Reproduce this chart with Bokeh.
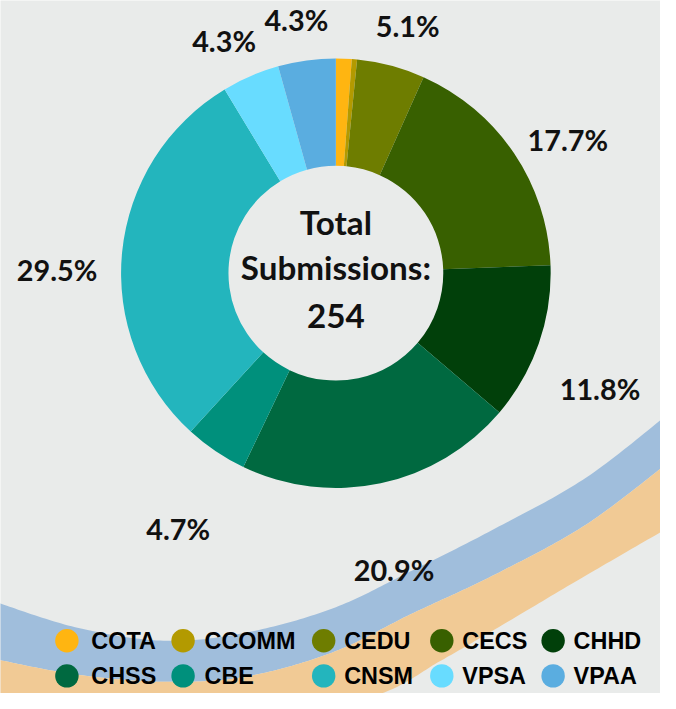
import numpy as np
from bokeh.plotting import figure
from bokeh.models import Range1d, ColumnDataSource
from bokeh.core.properties import value
from bokeh.embed import file_html
from bokeh.resources import INLINE

# ---- data ----
units = ["COTA", "CCOMM", "CEDU", "CECS", "CHHD", "CHSS", "CBE", "CNSM", "VPSA", "VPAA"]
counts = [3, 1, 13, 45, 30, 53, 12, 75, 11, 11]
colors = ["#FFB511", "#B39A00", "#6E7D00", "#386000", "#01400A",
          "#006940", "#00907C", "#23B5BD", "#68DCFF", "#5AADE0"]
total = sum(counts)

# label anchor positions (reference pixels, y from top) for the labelled slices
label_units = ["CEDU", "CECS", "CHHD", "CHSS", "CBE", "CNSM", "VPSA", "VPAA"]
label_pos = [(417, 26), (581, 143), (614, 397), (403, 583),
             (182, 541), (58, 276), (229, 41), (303, 20)]

BG = "#E9EBEA"
W, H = 676, 709
PW, PH = 660, 693
S = PW / W  # screen scale


def Y(y):
    return H - np.asarray(y, float)


def fs(px):
    return f"{px * S:.1f}px"


p = figure(width=PW, height=PH, x_range=Range1d(0, W), y_range=Range1d(0, H),
           x_axis_type=None, y_axis_type=None, toolbar_location=None,
           output_backend="svg", min_border=0)
p.background_fill_color = BG
p.border_fill_color = BG
p.outline_line_color = None
p.xgrid.visible = False
p.ygrid.visible = False


# ---- decorative waves ----
def catmull(pts, n=24):
    pts = np.array(pts, float)
    m = len(pts)
    xs, ys = [], []
    for i in range(m - 1):
        p0 = pts[max(i - 1, 0)]
        p1 = pts[i]
        p2 = pts[i + 1]
        p3 = pts[min(i + 2, m - 1)]
        t = np.linspace(0, 1, n, endpoint=False)[:, None]
        c = 0.5 * ((2 * p1) + (-p0 + p2) * t + (2 * p0 - 5 * p1 + 4 * p2 - p3) * t ** 2
                   + (-p0 + 3 * p1 - 3 * p2 + p3) * t ** 3)
        xs.extend(c[:, 0])
        ys.extend(c[:, 1])
    xs.append(pts[-1, 0])
    ys.append(pts[-1, 1])
    return np.array(xs), np.array(ys)


blue_top = [(-10, 612), (0, 617), (80, 642), (167, 655), (250, 647), (340, 622),
            (420, 584), (507, 540), (600, 488), (690, 418)]
mid_edge = [(-10, 672), (0, 675), (80, 690), (167, 697), (250, 692), (340, 667),
            (420, 628), (507, 587), (600, 536), (690, 468)]
orange_bot = [(-10, 722), (0, 725), (167, 745), (300, 728), (390, 709), (450, 676),
              (507, 643), (600, 588), (690, 536)]

bx1, by1 = catmull(blue_top)
bx2, by2 = catmull(mid_edge)
ox2, oy2 = catmull(orange_bot)

p.patch(np.concatenate([bx1, bx2[::-1]]), Y(np.concatenate([by1, by2[::-1]])),
        fill_color="#A0BEDC", line_color=None)
p.patch(np.concatenate([bx2, ox2[::-1]]), Y(np.concatenate([by2, oy2[::-1]])),
        fill_color="#F1CA95", line_color=None)

# ---- donut ----
cx, cy = 343.5, float(Y(279))
frac = np.array(counts) / total
cum = np.concatenate([[0], np.cumsum(frac)])
start = np.pi / 2 - cum[1:] * 2 * np.pi
end = np.pi / 2 - cum[:-1] * 2 * np.pi
src = ColumnDataSource(dict(start=start, end=end, color=colors, unit=units))
p.annular_wedge(x=cx, y=cy, inner_radius=110, outer_radius=220,
                start_angle="start", end_angle="end", fill_color="color",
                line_color=None, source=src)

# center text
p.text(x=[cx, cx, cx], y=list(Y([227, 273, 323])),
       text=["Total", "Submissions:", str(total)],
       text_align="center", text_baseline="middle", text_color="#111111",
       text_font=value("Lato"), text_font_style="bold", text_font_size=fs(34))

# percentage labels
lab_txt = []
for u in label_units:
    c = counts[units.index(u)]
    lab_txt.append(f"{c / total * 100:.1f}%")
p.text(x=[q[0] for q in label_pos], y=list(Y([q[1] for q in label_pos])), text=lab_txt,
       text_align="center", text_baseline="middle", text_color="#111111",
       text_font=value("Lato"), text_font_style="bold", text_font_size=fs(29.5))

# ---- legend (manual) ----
col_marker_x = [68, 187, 331, 452, 566]
col_text_x = [93, 209, 352, 473, 587]
row_y = [655, 691]
mx, my, tx, ty = [], [], [], []
for i, u in enumerate(units):
    r, c = divmod(i, 5)
    mx.append(col_marker_x[c])
    my.append(float(Y(row_y[r])))
    tx.append(col_text_x[c])
    ty.append(float(Y(row_y[r])))
p.scatter(x=mx, y=my, size=24 * S, marker="circle", fill_color=colors, line_color=None)
p.text(x=tx, y=ty, text=units, text_align="left", text_baseline="middle",
       text_color="#000000", text_font=value("Liberation Sans"), text_font_style="bold",
       text_font_size=fs(24))

open("out.html", "w").write(file_html(p, INLINE))
